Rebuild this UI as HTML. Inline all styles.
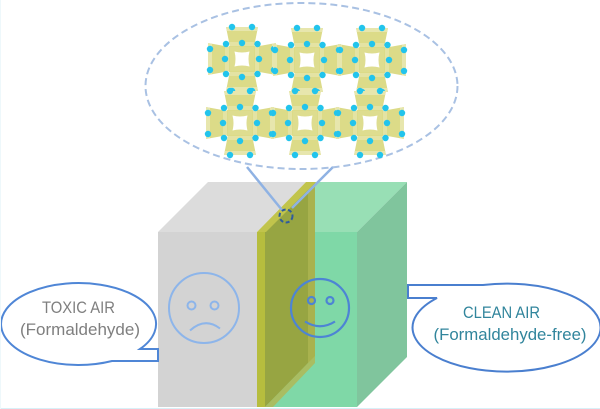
<!DOCTYPE html>
<html>
<head>
<meta charset="utf-8">
<style>
  html,body{margin:0;padding:0;background:#fff;}
  svg{display:block;}
  text{font-family:"Liberation Sans","DejaVu Sans",sans-serif;}
</style>
</head>
<body>
<svg width="600" height="409" viewBox="0 0 600 409" xmlns="http://www.w3.org/2000/svg">
  <defs>
    <g id="unit">
      <rect x="-13" y="-13" width="26" height="26" fill="#dedd8f"/>
      <path d="M-16,-32 L16,-32 L12,-12 L-12,-12Z M-16,32 L16,32 L12,12 L-12,12Z M-34,-16 L-34,16 L-12,12 L-12,-12Z M34,-16 L34,16 L12,12 L12,-12Z" fill="#dcdb88"/>
      <path d="M-16,-32 L16,-32 L15.2,-28 L-15.2,-28Z M-16,32 L16,32 L15.2,28 L-15.2,28Z M-34,-16 L-34,16 L-30,15.2 L-30,-15.2Z M34,-16 L34,16 L30,15.2 L30,-15.2Z" fill="#e7e6ad"/>
      <path d="M-13,-17 L13,-17 L12,-13 L-12,-13Z M-13,17 L13,17 L12,13 L-12,13Z M-17,-13 L-17,13 L-13,12 L-13,-12Z M17,-13 L17,13 L13,12 L13,-12Z" fill="#e4e3a3"/>
      <path d="M-7.5,-7.5 Q0,-5.5 7.5,-7.5 Q5.5,0 7.5,7.5 Q0,5.5 -7.5,7.5 Q-5.5,0 -7.5,-7.5Z" fill="#ffffff"/>
      <g fill="#22c4ec">
        <circle cx="-10" cy="-32" r="3.2"/><circle cx="10" cy="-32" r="3.2"/>
        <circle cx="-32" cy="-10" r="3.2"/><circle cx="-32" cy="11" r="3.2"/>
        <circle cx="32" cy="-10" r="3.2"/><circle cx="32" cy="11" r="3.2"/>
        <circle cx="-10" cy="32" r="3.2"/><circle cx="10" cy="32" r="3.2"/>
        <circle cx="0" cy="-16" r="3.2"/><circle cx="-17" cy="0" r="3.2"/>
        <circle cx="17" cy="0" r="3.2"/><circle cx="0" cy="18" r="3.2"/>
        <circle cx="-16" cy="-15" r="3.2"/><circle cx="15.5" cy="-15" r="3.2"/>
        <circle cx="-16" cy="15" r="3.2"/><circle cx="15.5" cy="15" r="3.2"/>
      </g>
    </g>
  </defs>

  <rect x="0" y="0" width="600" height="409" fill="#ffffff"/>

  <!-- Gray box -->
  <polygon points="158,232 208,182 306,182 257,232" fill="#dcdcdc"/>
  <rect x="158" y="232" width="99" height="175" fill="#d3d3d3"/>

  <!-- Green box -->
  <polygon points="265,232 315,182 407,182 357,232" fill="#98dfb5"/>
  <rect x="265" y="232" width="92" height="175" fill="#7fd8a7"/>
  <polygon points="357,232 407,182 407,357 357,407" fill="#80c59d"/>

  <!-- Yellow slab -->
  <polygon points="265,232 314,183 314,357 265,407" fill="#97a542"/>
  <polygon points="308,189 315,182 315,357 308,364" fill="#a9b24e"/>
  <polygon points="265,407 273,407 315,363 315,356 308,363" fill="#a9bd62"/>
  <polygon points="257,232 306,182 316,182 266,232" fill="#c1c44c"/>
  <rect x="257" y="232" width="8" height="175" fill="#b6bd3e"/>

  <!-- Sad face -->
  <g fill="none" stroke="#8db5ea" stroke-width="2">
    <circle cx="204" cy="308" r="35"/>
    <circle cx="191.5" cy="305.5" r="4"/>
    <circle cx="214.5" cy="305.5" r="4"/>
    <path d="M190,330.5 Q205,317 220,328.5"/>
  </g>

  <!-- Happy face -->
  <g fill="none" stroke="#4d84d4" stroke-width="2.2">
    <circle cx="320" cy="308" r="29"/>
    <circle cx="311.5" cy="300.5" r="3.5"/>
    <circle cx="330" cy="300.5" r="3.5"/>
    <path d="M305,321.5 Q320,331 335,321.5"/>
  </g>

  <!-- Magnifier lines -->
  <g stroke="#8fb2e3" stroke-width="2.5" fill="none">
    <line x1="247" y1="167" x2="282" y2="210"/>
    <line x1="333" y1="167" x2="292" y2="208"/>
  </g>
  <circle cx="286" cy="216" r="6.5" fill="none" stroke="#2f5c9c" stroke-width="2" stroke-dasharray="4 2.5"/>

  <!-- Dashed ellipse -->
  <ellipse cx="301.5" cy="86" rx="156" ry="83" fill="none" stroke="#a9c1e3" stroke-width="2" stroke-dasharray="7 4"/>

  <!-- MOF units -->
  <use href="#unit" transform="translate(242,59)"/>
  <use href="#unit" transform="translate(307,60)"/>
  <use href="#unit" transform="translate(372,60)"/>
  <use href="#unit" transform="translate(240,123)"/>
  <use href="#unit" transform="translate(305,123)"/>
  <use href="#unit" transform="translate(370,123)"/>

  <!-- Left callout -->
  <path d="M140,349 A77.5,41 0 1,0 112,361 L158,361 L158,349 Z" fill="#ffffff" stroke="#4f86d6" stroke-width="2" stroke-linejoin="miter"/>
  <text x="78.5" y="313" font-size="17" fill="#7f7f7f" text-anchor="middle" textLength="73" lengthAdjust="spacingAndGlyphs">TOXIC AIR</text>
  <text x="80" y="335" font-size="17" fill="#7f7f7f" text-anchor="middle" textLength="120" lengthAdjust="spacingAndGlyphs">(Formaldehyde)</text>

  <!-- Right callout -->
  <path d="M483,285 A94,44 0 1,1 437,298 L408,298 L408,285 Z" fill="#ffffff" stroke="#4a7fcf" stroke-width="2" stroke-linejoin="miter"/>
  <text x="501.5" y="318" font-size="17" fill="#31859c" text-anchor="middle" textLength="77" lengthAdjust="spacingAndGlyphs">CLEAN AIR</text>
  <text x="510" y="340" font-size="17" fill="#31859c" text-anchor="middle" textLength="153" lengthAdjust="spacingAndGlyphs">(Formaldehyde-free)</text>

  <!-- faint border -->
  <line x1="0" y1="408.5" x2="600" y2="408.5" stroke="#d8f0f8" stroke-width="1"/>
  <line x1="0.5" y1="0" x2="0.5" y2="409" stroke="#eef8fb" stroke-width="1"/>
</svg>
</body>
</html>
